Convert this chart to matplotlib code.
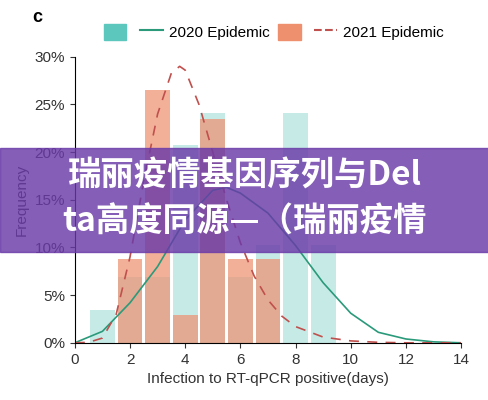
import numpy as np
import matplotlib.pyplot as plt
from matplotlib.patches import Patch
from matplotlib.lines import Line2D

plt.rcParams['font.family'] = ['Liberation Sans', 'DejaVu Sans']

days = [1, 2, 3, 4, 5, 6, 7, 8, 9]
pct_2020 = [3.4, 6.9, 6.9, 20.7, 24.1, 6.9, 10.3, 24.1, 10.3]
pct_2021 = [0, 8.8, 26.5, 2.9, 23.5, 8.8, 8.8, 0, 0]

fit_x_2020 = [0, 1, 2, 3, 4, 5, 5.5, 6, 7, 8, 9, 10, 11, 12, 13, 14]
fit_y_2020 = [0, 1.2, 4.2, 8.0, 12.9, 16.0, 16.3, 15.7, 13.6, 10.2, 6.3, 3.1, 1.1, 0.4, 0.1, 0]
fit_x_2021 = [0, 0.5, 1, 1.5, 2, 2.5, 3, 3.5, 3.8, 4, 4.5, 5, 5.5, 6, 6.5, 7, 7.5, 8, 9, 10, 11, 12, 14]
fit_y_2021 = [0, 0.05, 0.5, 3, 9, 17, 24, 28.3, 29, 28.6, 25, 20, 15, 10.5, 7, 4.5, 2.8, 1.7, 0.6, 0.2, 0.05, 0, 0]

teal = '#5cc8bd'
salmon = '#ee8f6e'

fig = plt.figure(figsize=(4.89, 4.0), dpi=100)
ax = fig.add_axes([0.153, 0.143, 0.79, 0.715])

ax.bar(days, pct_2020, width=0.9, color=teal, alpha=0.35)
ax.bar(days, pct_2021, width=0.9, color=salmon, alpha=0.7)
ax.plot(fit_x_2020, fit_y_2020, color='#2a9a7a', lw=1.2)
ax.plot(fit_x_2021, fit_y_2021, color='#c0504d', lw=1.2, ls=(0, (6, 5)))

ax.set_xlim(0, 14)
ax.set_ylim(0, 30)
ax.set_xticks(range(0, 15, 2))
ax.set_yticks(range(0, 31, 5))
ax.set_yticklabels([f'{v}%' for v in range(0, 31, 5)])
ax.tick_params(labelsize=11, colors='#333333')
for s in ['top', 'right']:
    ax.spines[s].set_visible(False)
ax.set_xlabel('Infection to RT-qPCR positive(days)', fontsize=11, color='#333333')
ax.set_ylabel('Frequency', fontsize=11, color='#333333')

handles = [Patch(color=teal), Line2D([], [], color='#2a9a7a'),
           Patch(color=salmon), Line2D([], [], color='#c0504d', ls='--')]
fig.legend(handles=handles, labels=['', '2020 Epidemic', '', '2021 Epidemic'],
           ncol=4, loc='upper center', bbox_to_anchor=(0.56, 0.975), frameon=False,
           fontsize=11, handlelength=1.5, handleheight=1.3, columnspacing=0.5, handletextpad=0.4)
fig.text(0.065, 0.945, 'c', fontsize=13, weight='bold')

# 紫色横幅
fig.patches.append(plt.Rectangle((0, 0.37), 1, 0.26, transform=fig.transFigure,
                                 color='#6a3aa8', alpha=0.82, zorder=5))
fig.text(0.5, 0.56, '瑞丽疫情基因序列与Del', ha='center', va='center', color='white',
         fontsize=24, weight='bold', family=['Noto Sans CJK SC', 'DejaVu Sans'], zorder=6)
fig.text(0.5, 0.445, 'ta高度同源—（瑞丽疫情', ha='center', va='center', color='white',
         fontsize=24, weight='bold', family=['Noto Sans CJK SC', 'DejaVu Sans'], zorder=6)

fig.savefig('out.png', dpi=100)
